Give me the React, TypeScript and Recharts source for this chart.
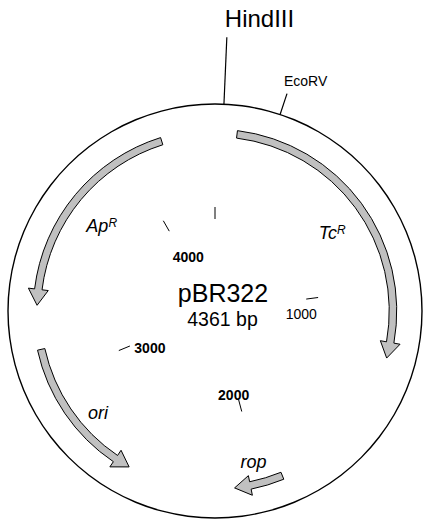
import React from "react";
import { PieChart, Pie } from "recharts";

// plasmid map data (positions in bp)
const TOTAL_BP = 4361;
const PLASMID_NAME = "pBR322";

const GENE_NAMES = ["Tc", "rop", "ori", "Ap"];
const GENE_SUPERSCRIPTS = ["R", "", "", "R"];
const GENE_STARTS = [86, 1911, 2530, 3293];
const GENE_ENDS = [1276, 2104, 3120, 4150];
const GENE_CLOCKWISE = [true, true, false, false];

const SITE_NAMES = ["HindIII", "EcoRV"];
const SITE_POSITIONS = [30, 222];

const TICK_POSITIONS = [0, 1000, 2000, 3000, 4000];
const TICK_LABELS = ["", "1000", "2000", "3000", "4000"];

// layout / styles
const W = 423;
const H = 519;
const CX = 215;
const CY = 311;
const BACKBONE_R = 207;
const FONT = '"Liberation Sans", Arial, Helvetica, sans-serif';
const ARROW = { r: 178, half: 3.75, headHalf: 10, headLen: 16, fill: "#c0c0c0" };
const GENE_LABEL_STYLE = [
  { r: 141, dx: 0, dy: 6 },
  { r: 156, dx: 0, dy: 6 },
  { r: 156, dx: 8, dy: 15 },
  { r: 141, dx: -1, dy: 6 },
];
const SITE_STYLE = [
  { len: 67, size: 24, dx: -2, dy: -10 },
  { len: 22, size: 14, dx: -3, dy: -8 },
];
const TICK_R0 = 92;
const TICK_R1 = 104;
const TICK_LABEL_OFFSETS = [
  [0, 0],
  [-5, 20],
  [-5, 0],
  [20, 7],
  [19, 31],
];
const TICK_BOLD = [false, false, true, true, true];

const RAD = Math.PI / 180;

function polar(cx: number, cy: number, r: number, a: number) {
  return [cx + r * Math.cos(-a * RAD), cy + r * Math.sin(-a * RAD)];
}

type Seg = { value: number; idx: number };

function geneSegments(): Seg[] {
  const segs: Seg[] = [];
  let cur = 0;
  GENE_STARTS.forEach((s, i) => {
    if (s > cur) segs.push({ value: s - cur, idx: -1 });
    segs.push({ value: GENE_ENDS[i] - s, idx: i });
    cur = GENE_ENDS[i];
  });
  if (cur < TOTAL_BP) segs.push({ value: TOTAL_BP - cur, idx: -1 });
  return segs;
}

// each segment starts at a marker position
function markerSegments(pos: number[]): Seg[] {
  const segs: Seg[] = [];
  if (pos[0] > 0) segs.push({ value: pos[0], idx: -1 });
  pos.forEach((p, i) => {
    const next = i + 1 < pos.length ? pos[i + 1] : TOTAL_BP;
    segs.push({ value: next - p, idx: i });
  });
  return segs;
}

const backboneData = [{ value: TOTAL_BP, idx: 0 }];
const geneData = geneSegments();
const siteData = markerSegments(SITE_POSITIONS);
const tickData = markerSegments(TICK_POSITIONS);

function getIdx(props: any): number {
  const p = props.payload ?? props;
  return p.idx ?? props.idx ?? -1;
}

function arrowPath(cx: number, cy: number, tail: number, tip: number) {
  const { r, half, headHalf, headLen } = ARROW;
  const dir = tip < tail ? -1 : 1;
  const headDeg = headLen / r / RAD;
  const base = tip - dir * headDeg;
  const sweep = dir < 0 ? 1 : 0;
  const rO = r + half;
  const rI = r - half;
  const pt = (rr: number, a: number) => polar(cx, cy, rr, a).map((v) => v.toFixed(2)).join(",");
  return [
    `M${pt(rO, tail)}`,
    `A${rO},${rO} 0 0 ${sweep} ${pt(rO, base)}`,
    `L${pt(r + headHalf, base)}`,
    `L${pt(r, tip)}`,
    `L${pt(r - headHalf, base)}`,
    `L${pt(rI, base)}`,
    `A${rI},${rI} 0 0 ${1 - sweep} ${pt(rI, tail)}`,
    "Z",
  ].join(" ");
}

function renderGene(props: any) {
  const i = getIdx(props);
  if (i < 0) return null;
  const { cx, cy, startAngle, endAngle, midAngle } = props;
  const cw = GENE_CLOCKWISE[i];
  const tail = cw ? startAngle : endAngle;
  const tip = cw ? endAngle : startAngle;
  const ls = GENE_LABEL_STYLE[i];
  const [lx, ly] = polar(cx, cy, ls.r, midAngle);
  return (
    <g>
      <path d={arrowPath(cx, cy, tail, tip)} fill={ARROW.fill} stroke="#000" strokeWidth={1} />
      <text
        x={lx + ls.dx}
        y={ly + ls.dy}
        textAnchor="middle"
        fontFamily={FONT}
        fontSize={18}
        fontStyle="italic"
        fill="#000"
      >
        {GENE_NAMES[i]}
        {GENE_SUPERSCRIPTS[i] ? (
          <tspan fontSize={12} dy={-5}>
            {GENE_SUPERSCRIPTS[i]}
          </tspan>
        ) : null}
      </text>
    </g>
  );
}

function renderSite(props: any) {
  const i = getIdx(props);
  if (i < 0) return null;
  const { cx, cy, startAngle } = props;
  const s = SITE_STYLE[i];
  const [x0, y0] = polar(cx, cy, BACKBONE_R, startAngle);
  const [x1, y1] = polar(cx, cy, BACKBONE_R + s.len, startAngle);
  return (
    <g>
      <line x1={x0} y1={y0} x2={x1} y2={y1} stroke="#000" strokeWidth={1.2} />
      <text x={x1 + s.dx} y={y1 + s.dy} fontFamily={FONT} fontSize={s.size} fill="#000">
        {SITE_NAMES[i]}
      </text>
    </g>
  );
}

function renderTick(props: any) {
  const i = getIdx(props);
  if (i < 0) return null;
  const { cx, cy, startAngle } = props;
  const [x0, y0] = polar(cx, cy, TICK_R0, startAngle);
  const [x1, y1] = polar(cx, cy, TICK_R1, startAngle);
  const [ox, oy] = TICK_LABEL_OFFSETS[i];
  return (
    <g>
      <line x1={x0} y1={y0} x2={x1} y2={y1} stroke="#000" strokeWidth={1} />
      {TICK_LABELS[i] ? (
        <text
          x={x0 + ox}
          y={y0 + oy}
          textAnchor="middle"
          fontFamily={FONT}
          fontSize={14}
          fontWeight={TICK_BOLD[i] ? "bold" : "normal"}
          fill="#000"
        >
          {TICK_LABELS[i]}
        </text>
      ) : null}
    </g>
  );
}

function renderTitle(props: any) {
  const { cx, cy } = props;
  return (
    <g>
      <text x={cx + 8} y={cy - 9} textAnchor="middle" fontFamily={FONT} fontSize={25} fill="#000">
        {PLASMID_NAME}
      </text>
      <text x={cx + 7.5} y={cy + 15} textAnchor="middle" fontFamily={FONT} fontSize={19.5} fill="#000">
        {`${TOTAL_BP} bp`}
      </text>
    </g>
  );
}

export default function App() {
  return (
    <div style={{ position: "absolute", left: 0, top: 0, width: W, height: H, background: "#fff" }}>
      <PieChart width={W} height={H} margin={{ top: 0, right: 0, bottom: 0, left: 0 }}>
        <Pie
          data={backboneData}
          dataKey="value"
          cx={CX}
          cy={CY}
          innerRadius={BACKBONE_R - 0.7}
          outerRadius={BACKBONE_R + 0.7}
          startAngle={90}
          endAngle={-270}
          fill="#000"
          stroke="none"
          label={renderTitle}
          labelLine={false}
          isAnimationActive={false}
        />
        <Pie
          data={siteData}
          dataKey="value"
          cx={CX}
          cy={CY}
          innerRadius={BACKBONE_R}
          outerRadius={BACKBONE_R}
          startAngle={90}
          endAngle={-270}
          fill="none"
          stroke="none"
          label={renderSite}
          labelLine={false}
          isAnimationActive={false}
        />
        <Pie
          data={tickData}
          dataKey="value"
          cx={CX}
          cy={CY}
          innerRadius={TICK_R0}
          outerRadius={TICK_R1}
          startAngle={90}
          endAngle={-270}
          fill="none"
          stroke="none"
          label={renderTick}
          labelLine={false}
          isAnimationActive={false}
        />
        <Pie
          data={geneData}
          dataKey="value"
          cx={CX}
          cy={CY}
          innerRadius={ARROW.r - ARROW.half}
          outerRadius={ARROW.r + ARROW.half}
          startAngle={90}
          endAngle={-270}
          fill="none"
          stroke="none"
          label={renderGene}
          labelLine={false}
          isAnimationActive={false}
        />
      </PieChart>
    </div>
  );
}
